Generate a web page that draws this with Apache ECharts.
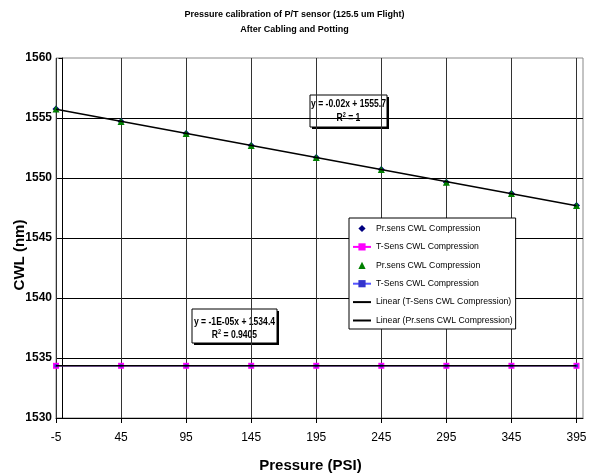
<!DOCTYPE html>
<html><head><meta charset="utf-8">
<script src="https://cdn.jsdelivr.net/npm/echarts@6/dist/echarts.min.js"></script>
<style>html,body{margin:0;padding:0;background:#fff}#c{width:589px;height:476px}</style>
</head><body><div id="c"></div>
<script>
const pressure = [-5, 45, 95, 145, 195, 245, 295, 345, 395];
const prSensCWL = [1555.75, 1554.7, 1553.7, 1552.7, 1551.7, 1550.7, 1549.65, 1548.7, 1547.7];
const tSensCWL = [1534.35, 1534.35, 1534.35, 1534.35, 1534.35, 1534.35, 1534.35, 1534.35, 1534.35];
const xTickLabels = [-5, 45, 95, 145, 195, 245, 295, 345, 395];
const yTickLabels = [1530, 1535, 1540, 1545, 1550, 1555, 1560];
const titleLines = ['Pressure calibration of P/T sensor (125.5 um Flight)', 'After Cabling and Potting'];
const eqPr = ['y = -0.02x + 1555.7', 'R{s|2} = 1'];
const eqT = ['y = -1E-05x + 1534.4', 'R{s|2} = 0.9405'];

const F = "'Liberation Sans',Arial,sans-serif";

function fit(xs, ys) {
  const n = xs.length;
  const mx = xs.reduce((a, b) => a + b, 0) / n;
  const my = ys.reduce((a, b) => a + b, 0) / n;
  let sxy = 0, sxx = 0;
  for (let i = 0; i < n; i++) { sxy += (xs[i] - mx) * (ys[i] - my); sxx += (xs[i] - mx) ** 2; }
  const b = sxy / sxx, a = my - b * mx;
  return [[xs[0], a + b * xs[0]], [xs[n - 1], a + b * xs[n - 1]]];
}
const pairs = (ys) => pressure.map((x, i) => [x, ys[i]]);

const chart = echarts.init(document.getElementById('c'), null, { renderer: 'canvas' });

function eqBox(x, y, w, h, lines, cx, row1, row2) {
  const txt = (t, ry) => ({
    type: 'text', x: cx, y: ry, scaleX: 0.78,
    style: { text: t, fill: '#000', font: 'bold 11px ' + F, textAlign: 'center', textVerticalAlign: 'middle',
      rich: { s: { fontSize: 7, verticalAlign: 'top', padding: [0, 0, 6, 0], fontWeight: 'bold', fontFamily: F } } }
  });
  return {
    type: 'group', z: 100,
    children: [
      { type: 'rect', shape: { x: x + 2, y: y + 2, width: w, height: h }, style: { fill: '#000' } },
      { type: 'rect', shape: { x: x, y: y, width: w, height: h }, style: { fill: '#fff', stroke: '#000', lineWidth: 1 } },
      txt(lines[0], row1), txt(lines[1], row2)
    ]
  };
}

const hiddenIcon = { color: 'transparent', borderColor: 'transparent', opacity: 0 };

const option = {
  backgroundColor: '#fff',
  animation: false,
  title: {
    text: titleLines.join('\n'),
    left: 'center', top: 2,
    textStyle: { fontFamily: F, fontWeight: 'bold', fontSize: 9, lineHeight: 15, color: '#000' }
  },
  grid: { left: 56, right: 6, top: 58, bottom: 58, show: true, borderColor: '#888', borderWidth: 1,
    backgroundColor: 'transparent', containLabel: false, outerBoundsMode: 'none' },
  legend: {
    orient: 'vertical', left: 349, top: 218,
    backgroundColor: '#fff', borderColor: '#000', borderWidth: 1,
    padding: [6, 3, 4, 3],
    itemWidth: 18, itemHeight: 9, itemGap: 9.4,
    textStyle: { fontFamily: F, fontSize: 8.7, color: '#000' },
    data: [
      { name: 'Pr.sens CWL Compression' },
      { name: 'T-Sens CWL Compression' },
      { name: 'Pr.sens CWL Compression ' },
      { name: 'T-Sens CWL Compression ' },
      { name: 'Linear (T-Sens CWL Compression)', itemStyle: hiddenIcon },
      { name: 'Linear (Pr.sens CWL Compression)', itemStyle: hiddenIcon }
    ],
    selectedMode: false
  },
  xAxis: {
    type: 'value', min: -5, max: 400, interval: 50,
    name: 'Pressure (PSI)', nameLocation: 'middle', nameGap: 40,
    nameTextStyle: { fontFamily: F, fontWeight: 'bold', fontSize: 15, color: '#000', padding: [0, 18, 0, 0] },
    axisLine: { lineStyle: { color: '#000', width: 1 } },
    axisTick: { show: true, length: 5, lineStyle: { color: '#000' } },
    axisLabel: { fontFamily: F, fontSize: 12, color: '#000', margin: 14, showMaxLabel: false, formatter: (v) => xTickLabels.includes(v) ? String(v) : '' },
    splitLine: { show: true, showMaxLine: false, lineStyle: { color: '#333', width: 1 } }
  },
  yAxis: {
    type: 'value', min: 1530, max: 1560, interval: 5,
    name: 'CWL (nm)', nameLocation: 'middle', nameGap: 29, nameMoveOverlap: false,
    nameTextStyle: { fontFamily: F, fontWeight: 'bold', fontSize: 15, color: '#000', padding: [0, 34, 0, 0] },
    axisLine: { show: true, lineStyle: { color: '#000', width: 1 } },
    axisTick: { show: true, length: 4, lineStyle: { color: '#000' } },
    axisLabel: { fontFamily: F, fontSize: 12, fontWeight: 'bold', color: '#000', margin: 4, formatter: (v) => yTickLabels.includes(v) ? String(v) : '' },
    splitLine: { show: true, showMaxLine: false, lineStyle: { color: '#000', width: 1 } }
  },
  series: [
    { name: 'Pr.sens CWL Compression', type: 'line', symbol: 'diamond', symbolSize: 7, showAllSymbol: true,
      lineStyle: { opacity: 0, width: 0 }, itemStyle: { color: '#000080' }, data: pairs(prSensCWL), z: 2 },
    { name: 'T-Sens CWL Compression', type: 'line', symbol: 'rect', symbolSize: 6, showAllSymbol: true,
      lineStyle: { color: '#FF00FF', width: 1 }, itemStyle: { color: '#FF00FF' }, data: pairs(tSensCWL), z: 3 },
    { name: 'Pr.sens CWL Compression ', type: 'line', symbol: 'triangle', symbolSize: 7, showAllSymbol: true,
      lineStyle: { opacity: 0, width: 0 }, itemStyle: { color: '#008000' }, data: pairs(prSensCWL), z: 4 },
    { name: 'T-Sens CWL Compression ', type: 'line', symbol: 'rect', symbolSize: 3, showAllSymbol: true,
      lineStyle: { color: '#5555FF', width: 1 }, itemStyle: { color: '#3333CC' }, data: pairs(tSensCWL), z: 5 },
    { name: 'Linear (T-Sens CWL Compression)', type: 'line', symbol: 'none',
      lineStyle: { color: '#000', width: 1.5 }, itemStyle: { color: '#000' }, data: fit(pressure, tSensCWL), z: 6 },
    { name: 'Linear (Pr.sens CWL Compression)', type: 'line', symbol: 'none',
      lineStyle: { color: '#000', width: 1.5 }, itemStyle: { color: '#000' }, data: fit(pressure, prSensCWL), z: 6 }
  ],
  graphic: [
    eqBox(310, 95, 77, 32, eqPr, 348.5, 104, 118),
    eqBox(192, 309, 85, 34, eqT, 234.5, 322, 335)
  ]
};
chart.setOption(option);
</script>
</body></html>
